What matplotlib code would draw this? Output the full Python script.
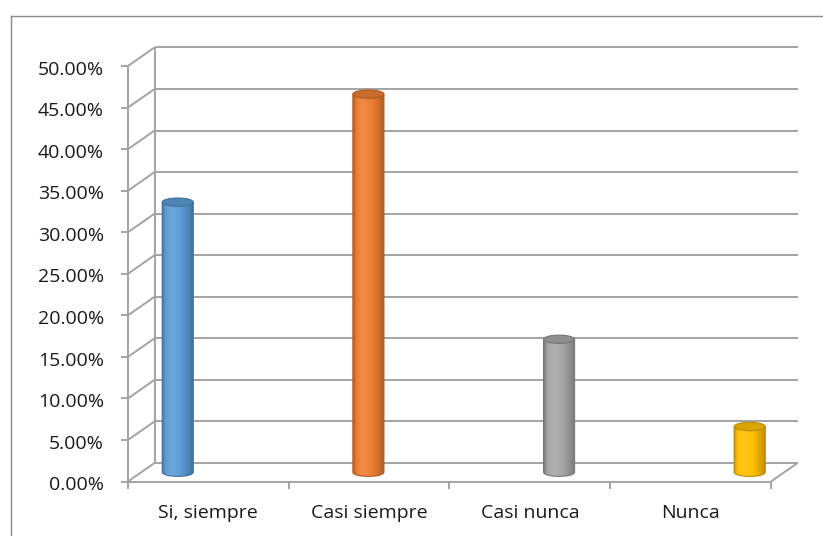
import numpy as np
import matplotlib
matplotlib.use("Agg")
import matplotlib.pyplot as plt
from matplotlib.patches import Ellipse, PathPatch
from matplotlib.path import Path
from matplotlib.colors import to_rgb
from matplotlib.lines import Line2D

# ---- data -------------------------------------------------------------
categories = ["Si, siempre", "Casi siempre", "Casi nunca", "Nunca"]
percentages = [32.5, 45.5, 16.0, 5.5]
bar_colors = ["#5B9BD5", "#ED7D31", "#A5A5A5", "#FFC000"]
y_ticks = [0, 5, 10, 15, 20, 25, 30, 35, 40, 45, 50]
y_tick_labels = ["0.00%", "5.00%", "10.00%", "15.00%", "20.00%", "25.00%",
                 "30.00%", "35.00%", "40.00%", "45.00%", "50.00%"]

# ---- layout -----------------------------------------------------------
W, H, DPI = 823, 536, 100
FRONT_LEFT, FRONT_RIGHT = 128, 771      # pixel x of the front plane
FRONT_BOTTOM, FRONT_TOP = 481.5, 66     # pixel y of 0% and 50% (from top)
DEPTH_X, DEPTH_Y = 0.165, 2.23          # depth offset of the back wall, data units
BAR_START, BAR_STEP = 0.227, 1.186      # cylinder centres on the front plane
BAR_W = 0.193
CAP_H = 1.0
GRID = "#a3a3a3"
TEXT = "#1a1a1a"
FS = 14

plt.rcParams["font.family"] = ["Open Sans", "DejaVu Sans"]

fig = plt.figure(figsize=(W / DPI, H / DPI), dpi=DPI)
fig.patch.set_facecolor("white")
ax = fig.add_axes([FRONT_LEFT / W, (H - FRONT_BOTTOM) / H,
                   (FRONT_RIGHT - FRONT_LEFT) / W,
                   (FRONT_BOTTOM - FRONT_TOP) / H])
ax.set_axis_off()

n = len(categories)
ymax = y_ticks[-1]


def line(xs, ys, z=1, **kw):
    ax.add_line(Line2D(xs, ys, color=GRID, lw=1.4, zorder=z,
                       clip_on=False, solid_capstyle="butt", **kw))


# back wall gridlines and side wall diagonals
for v in y_ticks:
    line([DEPTH_X, n + DEPTH_X], [v + DEPTH_Y, v + DEPTH_Y])
    line([0, DEPTH_X], [v, v + DEPTH_Y])
    line([-0.044, 0], [v, v])  # tick mark
# back wall left edge
line([DEPTH_X, DEPTH_X], [DEPTH_Y, ymax + DEPTH_Y])
# front value axis
line([0, 0], [0, ymax], z=2)
# floor front edge and right edge
line([0, n], [0, 0], z=2)
line([n, n + DEPTH_X], [0, DEPTH_Y], z=2)
# category tick marks
for i in range(n + 1):
    line([i, i], [0, -0.9], z=2)


def shade(rgb, f):
    rgb = np.array(rgb)
    if f <= 1:
        return rgb * f
    return rgb + (1 - rgb) * (f - 1)


# cylinders
prof_t = np.array([0.0, 0.12, 0.32, 0.55, 0.8, 1.0])
prof_f = np.array([0.78, 1.02, 1.12, 1.02, 0.88, 0.72])
for i, (val, col) in enumerate(zip(percentages, bar_colors)):
    base = to_rgb(col)
    xc = BAR_START + i * BAR_STEP + DEPTH_X / 2
    yb = DEPTH_Y / 2
    yt = yb + val
    a, b = BAR_W / 2, CAP_H / 2
    th = np.linspace(0, -np.pi, 40)
    verts = [(xc - a, yb), (xc - a, yt), (xc + a, yt), (xc + a, yb)]
    verts += [(xc + a * np.cos(t), yb + b * np.sin(t)) for t in th]
    verts.append(verts[0])
    codes = [Path.MOVETO] + [Path.LINETO] * (len(verts) - 2) + [Path.CLOSEPOLY]
    body = PathPatch(Path(verts, codes), facecolor="none",
                     edgecolor=shade(base, 0.72), lw=0.8, zorder=4, clip_on=False)
    ax.add_patch(body)
    t = np.linspace(0, 1, 64)
    f = np.interp(t, prof_t, prof_f)
    grad = np.array([[np.clip(shade(base, ff), 0, 1) for ff in f]])
    im = ax.imshow(grad, extent=[xc - a, xc + a, yb - b, yt], aspect="auto",
                   interpolation="bicubic", zorder=3, origin="lower")
    im.set_clip_path(body)
    cap = Ellipse((xc, yt), BAR_W, CAP_H, facecolor=shade(base, 0.86),
                  edgecolor=shade(base, 0.72), lw=0.8, zorder=5, clip_on=False)
    ax.add_patch(cap)

ax.set_xlim(0, n)
ax.set_ylim(0, ymax)

# value labels
for v, lab in zip(y_ticks, y_tick_labels):
    ax.text(-0.149, v - 0.45, lab, ha="right", va="center", fontsize=FS,
            color=TEXT, clip_on=False)

# category labels
for i, cat in enumerate(categories):
    ax.text(i + 0.5, -4.39, cat, ha="center", va="baseline", fontsize=FS,
            color=TEXT, clip_on=False)

# chart area border
bx, by = 11 / W, 1 - 16 / H
fig.add_artist(Line2D([bx, bx], [0, by], transform=fig.transFigure,
                      color="#8a8a8a", lw=1.0))
fig.add_artist(Line2D([bx, 1], [by, by], transform=fig.transFigure,
                      color="#8a8a8a", lw=1.0))

fig.savefig("out.png", dpi=DPI)
